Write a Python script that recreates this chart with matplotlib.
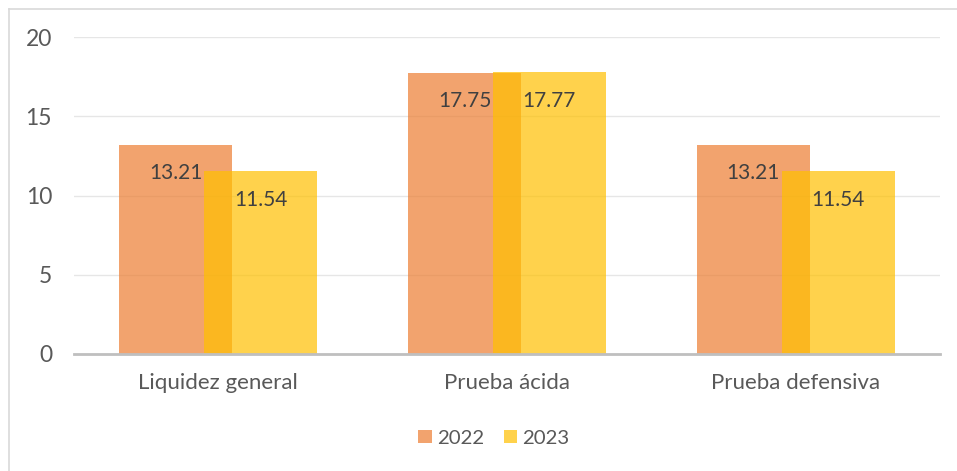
import matplotlib
matplotlib.use("Agg")
import matplotlib.pyplot as plt
from matplotlib.patches import Patch
from matplotlib.lines import Line2D
import numpy as np

categories = ["Liquidez general", "Prueba ácida", "Prueba defensiva"]
series_names = ["2022", "2023"]
values_2022 = [13.21, 17.75, 13.21]
values_2023 = [11.54, 17.77, 11.54]
yticks = [0, 5, 10, 15, 20]

plt.rcParams['font.family'] = ['Lato', 'DejaVu Sans']
text_color = "#595959"
c2022 = "#ED7D31"
c2023 = "#FFC000"
alpha = 0.7

W, H = 957, 471
fig = plt.figure(figsize=(W / 100, H / 100), dpi=100)
ax = fig.add_axes([74 / W, 1 - 354 / H, (940 - 74) / W, (354 - 37) / H])

x = np.arange(len(categories))
bw = 0.391
off = 0.147
b1 = ax.bar(x - off, values_2022, bw, color=c2022, alpha=alpha, zorder=2, linewidth=0)
b2 = ax.bar(x + off, values_2023, bw, color=c2023, alpha=alpha, zorder=3, linewidth=0)

for bars, vals in ((b1, values_2022), (b2, values_2023)):
    for rect, v in zip(bars, vals):
        ax.annotate(f"{v:.2f}", (rect.get_x() + rect.get_width() / 2, v),
                    xytext=(0, -28.5 * 72 / 100), textcoords="offset points",
                    ha="center", va="center", fontsize=15, color="#404040", zorder=5)

ax.set_xlim(-0.5, len(categories) - 0.5)
ax.set_ylim(0, 20)
ax.set_yticks(yticks)
ax.set_yticklabels([str(t) for t in yticks])
ax.set_xticks(x)
ax.set_xticklabels(categories)
ax.tick_params(axis="y", length=0, pad=22 * 0.72, labelsize=16.5, labelcolor=text_color)
ax.tick_params(axis="x", length=0, pad=19 * 0.72, labelsize=16, labelcolor=text_color)
ax.yaxis.grid(True, color="#E6E6E6", linewidth=1.0, zorder=0)
ax.set_axisbelow(True)
for s in ("top", "right", "left"):
    ax.spines[s].set_visible(False)
ax.spines["bottom"].set_color("#BFBFBF")
ax.spines["bottom"].set_linewidth(2.0)
ax.spines["bottom"].set_zorder(4)

# chart-area border (top and left visible)
fig.add_artist(Line2D([9 / W, 9 / W], [1 - 9 / H, 0], color="#D9D9D9", linewidth=1.2,
                      transform=fig.transFigure))
fig.add_artist(Line2D([9 / W, 1], [1 - 9 / H, 1 - 9 / H], color="#D9D9D9", linewidth=1.2,
                      transform=fig.transFigure))

handles = [Patch(facecolor=c2022, alpha=alpha, linewidth=0),
           Patch(facecolor=c2023, alpha=alpha, linewidth=0)]
fig.legend(handles, series_names, loc="center", bbox_to_anchor=(494 / W, 1 - 438 / H),
           ncol=2, frameon=False, fontsize=14.7, labelcolor=text_color,
           handlelength=0.64, handleheight=0.64, handletextpad=0.25, columnspacing=1.0)

fig.savefig("out.png", dpi=100)
